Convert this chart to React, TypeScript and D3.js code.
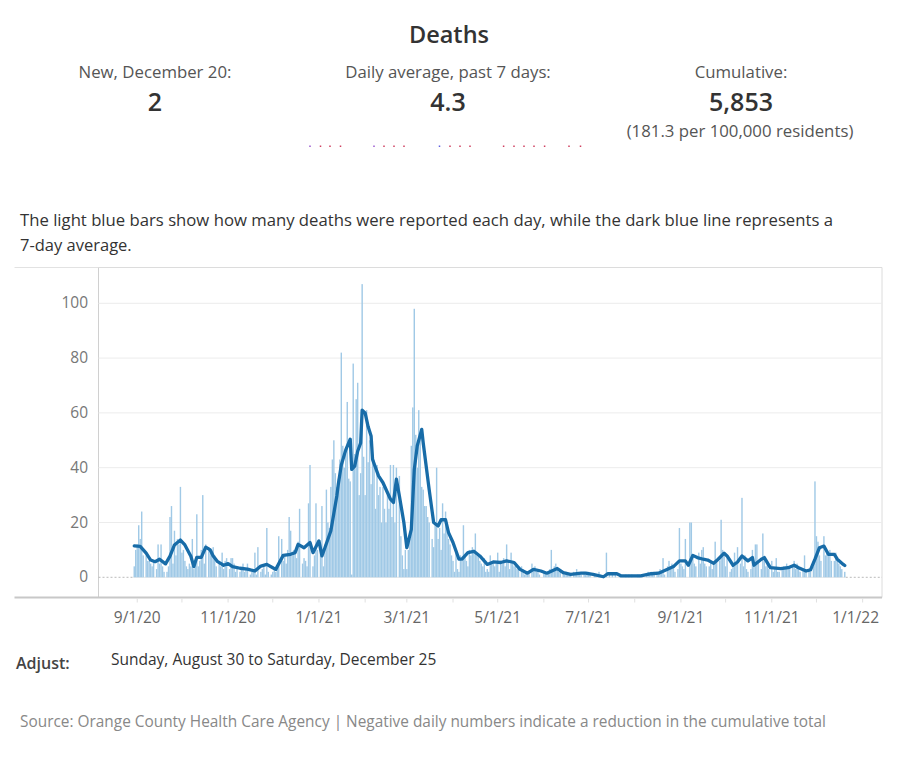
import React from "react";
import * as d3 from "d3";

// ---------- DATA ----------
// Daily reported deaths, starting Sunday Aug 30 2020 (one row per week, Sun..Sat)
const dailyPart1 = [
  4, 10, 12, 19, 14, 24, 8,
  0, 8, 6, 6, 5, 4, 6,
  0, 3, 12, 5, 12, 4, 2,
  0, 2, 4, 22, 26, 5, 17,
  8, 14, 12, 33, 9, 10, 6,
  4, 3, 5, 4, 14, 3, 5,
  23, 4, 6, 10, 30, 5, 12,
  0, 11, 9, 10, 11, 8, 4,
  0, 5, 4, 9, 3, 6, 7,
  0, 3, 7, 7, 5, 2, 4,
];
const dailyPart2 = [
  0, 2, 3, 5, 2, 3, 5,
  0, 1, 2, 3, 9, 1, 11,
  0, 2, 3, 4, 1, 18, 2,
  0, 1, 2, 3, 2, 3, 15,
  0, 14, 6, 8, 5, 10, 22,
  17, 8, 10, 9, 7, 13, 25,
  0, 5, 7, 6, 4, 27, 41,
  0, 4, 8, 27, 10, 0, 12,
  26, 4, 12, 32, 20, 18, 33,
  43, 50, 38, 33, 36, 43, 82,
];
const dailyPart3 = [
  48, 40, 45, 64, 36, 35, 1,
  78, 45, 65, 71, 30, 38, 107,
  44, 30, 61, 42, 50, 34, 43,
  43, 25, 41, 30, 33, 20, 33,
  25, 20, 30, 25, 41, 22, 41,
  20, 40, 0, 37, 15, 8, 3,
  10, 3, 10, 14, 48, 62, 98,
  52, 40, 61, 52, 33, 32, 26,
  26, 22, 20, 0, 14, 11, 20,
  40, 14, 18, 10, 27, 16, 24,
];
const dailyPart4 = [
  20, 14, 12, 8, 6, 2, 10,
  3, 2, 8, 6, 19, 8, 6,
  4, 10, 8, 11, 9, 16, 8,
  8, 6, 5, 4, 7, 2, 3,
  2, 8, 5, 6, 4, 5, 9,
  2, 6, 5, 7, 4, 12, 6,
  3, 9, 6, 4, 5, 3, 4,
  0, 4, 3, 1, 2, 1, 2,
  0, 5, 3, 4, 2, 3, 1,
  0, 0, 2, 2, 1, 2, 3,
];
const dailyPart5 = [
  10, 2, 4, 5, 3, 2, 3,
  0, 2, 1, 2, 1, 1, 1,
  0, 2, 1, 3, 2, 1, 1,
  0, 2, 1, 2, 2, 1, 0,
  0, 1, 1, 0, 2, 1, 0,
  0, 0, 9, 0, 1, 0, 1,
  0, 1, 0, 0, 1, 0, 0,
  0, 1, 0, 1, 0, 1, 0,
  0, 0, 1, 1, 0, 1, 0,
  0, 1, 2, 1, 2, 1, 2,
];
const dailyPart6 = [
  0, 2, 1, 3, 2, 7, 1,
  0, 4, 6, 3, 5, 4, 2,
  0, 3, 18, 5, 4, 3, 14,
  0, 0, 20, 20, 7, 5, 4,
  0, 9, 5, 10, 11, 5, 4,
  0, 4, 6, 3, 5, 13, 6,
  0, 6, 21, 10, 8, 4, 8,
  0, 2, 3, 4, 9, 5, 11,
  0, 5, 29, 4, 8, 3, 2,
  0, 3, 10, 5, 12, 12, 6,
];
const dailyPart7 = [
  0, 3, 16, 7, 4, 5, 3,
  0, 6, 2, 3, 7, 2, 2,
  0, 3, 4, 4, 5, 3, 4,
  0, 4, 6, 3, 5, 4, 2,
  0, 3, 8, 2, 0, 3, 2,
  0, 4, 35, 15, 13, 8, 6,
  0, 15, 8, 9, 8, 10, 6,
  0, 6, 9, 7, 5, 4, 3,
  0, 2,
];

// 7-day average line: day offset from Aug 30 2020, value
const avgDay = [
  0, 4, 8, 11, 14, 17, 21, 24, 27, 31, 34, 38, 40, 42, 45, 48, 51, 53, 56, 60,
  63, 66, 71, 76, 78, 81, 85, 89, 93, 95, 100, 105, 108, 110, 114, 118, 120, 124, 126, 128,
  132, 136, 137, 139, 142, 145, 146, 148, 150, 152, 153, 155, 157, 159, 160, 164, 167, 172, 174, 176,
  178, 181, 183, 186, 188, 190, 193, 194, 198, 201, 204, 206, 209, 211, 214, 218, 220, 224, 228, 232,
  237, 241, 246, 250, 255, 259, 264, 268, 273, 277, 284, 288, 293, 300, 303, 308, 315, 318, 324, 327,
  340, 347, 352, 358, 362, 366, 370, 372, 375, 378, 382, 385, 389, 392, 396, 398, 402, 405, 408, 412,
  415, 416, 421, 423, 427, 434, 439, 443, 446, 451, 454, 457, 460, 463, 466, 470, 472, 476, 477,
];
const avgValue = [
  11.5, 11.3, 8.8, 6.3, 5.7, 6.6, 4.9, 7.7, 11.8, 13.6, 11.8, 7.7, 3.9, 7.3, 7.3, 11, 10, 7.8, 5.7, 4.4,
  5.0, 3.9, 3.3, 3.0, 2.7, 2.3, 4.1, 4.7, 3.5, 2.9, 8, 8.4, 9, 12, 10.8, 12.7, 9, 13.3, 7.8, 10.8,
  17, 29.7, 34, 41, 46.5, 50.4, 39.4, 40.6, 46, 49, 61, 60, 55, 51.6, 43, 37, 34.5, 28.5, 27.3, 35.8,
  29.7, 20, 10.8, 17.5, 39.4, 48, 54, 49, 32, 20, 18.7, 21, 21, 16.3, 12.7, 6.6, 6.6, 9, 9.5, 7.8,
  4.7, 5.6, 5.4, 6, 5.4, 2.9, 1.5, 2.9, 2.3, 1.5, 3.2, 1.7, 1.1, 1.5, 1.5, 1.1, 0.2, 1.3, 1.3, 0.5,
  0.5, 1.3, 1.5, 2.9, 3.9, 6, 6, 4.4, 8, 7.2, 6.6, 6.3, 5.1, 6.6, 8.8, 7.8, 4.4, 5.6, 7.8, 6,
  7.2, 4.4, 6.6, 7.2, 3.5, 3.2, 3.5, 4.4, 3.5, 2.3, 2.7, 6.6, 10.8, 11.4, 8.4, 8.4, 6.6, 4.7, 4.3,
];

const yTicks = [0, 20, 40, 60, 80, 100];
const xTickLabels = ["9/1/20", "11/1/20", "1/1/21", "3/1/21", "5/1/21", "7/1/21", "9/1/21", "11/1/21", "1/1/22"];

const kpiLabels = ["New, December 20:", "Daily average, past 7 days:", "Cumulative:"];
const kpiValues = ["2", "4.3", "5,853"];

// ---------- CHART ----------
const FONT = "'Open Sans', Lato, sans-serif";
const START = new Date(2020, 7, 30);

export default function App() {
  const daily = [...dailyPart1, ...dailyPart2, ...dailyPart3, ...dailyPart4, ...dailyPart5, ...dailyPart6, ...dailyPart7];
  const bars = daily.map((v, i) => ({ date: d3.timeDay.offset(START, i), v }));
  const avg = avgDay.map((d, i) => ({ date: d3.timeDay.offset(START, d), v: avgValue[i] }));

  const left = 98.5, right = 882, top = 267.5, bottom = 597.5;
  const x = d3.scaleTime().domain([new Date(2020, 7, 6), new Date(2022, 0, 14)]).range([left, right]);
  const y = d3.scaleLinear().domain([0, 100]).range([577.3, 303.3]);
  const parse = d3.timeParse("%m/%d/%y");
  const monthTicks = d3.timeMonth.range(new Date(2020, 8, 1), new Date(2022, 0, 2));

  const line = d3.line<{ date: Date; v: number }>().x(d => x(d.date)).y(d => y(d.v));
  const dayW = x(new Date(2020, 8, 2)) - x(new Date(2020, 8, 1));
  const bw = dayW * 0.95;
  const firstX = x(bars[0].date) - 1;
  const lastX = x(bars[bars.length - 1].date) + 1;

  const kpiX = [155, 448, 741];
  const dotXs = [310, 320.5, 330, 340.5, 374, 384, 394, 404, 439.5, 450, 460, 470, 503.6, 514, 524, 534, 544.6, 569, 580.5];
  const dotCols = ["#9b59d0", "#d04060", "#d04060", "#d04060", "#9b59d0", "#d04060", "#d04060", "#d04060", "#6060e0", "#d04060", "#d04060", "#d04060", "#d04060", "#d04060", "#d04060", "#d04060", "#d04060", "#d04060", "#d04060"];

  return (
    <svg width={897} height={768} style={{ position: "absolute", left: 0, top: 0, background: "#fff" }} fontFamily={FONT}>
      <rect x={0} y={0} width={897} height={768} fill="#fff" />
      <text x={449} y={43} textAnchor="middle" fontSize={23.5} fontWeight={600} fill="#333">Deaths</text>
      {kpiLabels.map((t, i) => (
        <text key={t} x={kpiX[i]} y={78} textAnchor="middle" fontSize={16.8} fill="#555">{t}</text>
      ))}
      {kpiValues.map((t, i) => (
        <text key={t} x={kpiX[i]} y={111} textAnchor="middle" fontSize={25} fontWeight={600} fill="#333">{t}</text>
      ))}
      <text x={740} y={137} textAnchor="middle" fontSize={16.8} fill="#555">(181.3 per 100,000 residents)</text>
      {dotXs.map((dx, i) => (
        <rect key={i} x={dx - 0.75} y={145.5} width={1.5} height={1.5} fill={dotCols[i]} />
      ))}

      <text x={20} y={226} fontSize={16.5} fill="#333" textLength={813} lengthAdjust="spacingAndGlyphs">The light blue bars show how many deaths were reported each day, while the dark blue line represents a</text>
      <text x={20} y={251} fontSize={16.5} fill="#333">7-day average.</text>

      {/* frame */}
      <line x1={14.5} x2={left} y1={top} y2={top} stroke="#e2e2e2" />
      <line x1={left} x2={right} y1={top} y2={top} stroke="#dcdcdc" />
      <line x1={right} x2={right} y1={top} y2={bottom} stroke="#dcdcdc" />
      <line x1={left} x2={left} y1={top} y2={bottom} stroke="#d0d0d0" />

      {/* gridlines */}
      {yTicks.filter(t => t > 0).map(t => (
        <line key={t} x1={left} x2={right} y1={y(t)} y2={y(t)} stroke="#ececec" />
      ))}
      <line x1={left} x2={firstX} y1={y(0)} y2={y(0)} stroke="#bbb" strokeDasharray="2,2" />
      <line x1={lastX} x2={right} y1={y(0)} y2={y(0)} stroke="#bbb" strokeDasharray="2,2" />
      <line x1={firstX} x2={lastX} y1={y(0)} y2={y(0)} stroke="#e6e6e6" />

      {/* y labels */}
      {yTicks.map(t => (
        <text key={t} x={88} y={y(t) + 5} textAnchor="end" fontSize={15.5} fill="#777">{t}</text>
      ))}

      {/* bars */}
      {bars.map((b, i) => (
        <rect key={i} x={x(b.date) - bw / 2} y={y(Math.max(b.v, 0))} width={bw} height={Math.abs(y(0) - y(b.v))} fill="#a0c9e6" />
      ))}

      {/* 7-day avg */}
      <path d={line(avg) || ""} fill="none" stroke="#186ca8" strokeWidth={3.3} strokeLinejoin="round" strokeLinecap="round" />

      {/* bottom axis */}
      <line x1={14.5} x2={right} y1={bottom} y2={bottom} stroke="#c8c8c8" strokeWidth={2} />
      {monthTicks.map((m, i) => (
        <line key={i} x1={x(m)} x2={x(m)} y1={bottom + 1} y2={bottom + 5} stroke="#e0e0e0" />
      ))}
      {xTickLabels.map((t, i) => {
        const d = parse(t) as Date;
        const last = i === xTickLabels.length - 1;
        return (
          <text key={t} x={last ? 879 : x(d)} y={623} textAnchor={last ? "end" : "middle"} fontSize={15.5} fill="#666">{t}</text>
        );
      })}

      <text x={16} y={669} fontSize={16} fontWeight={600} fill="#444">Adjust:</text>
      <text x={111} y={665} fontSize={15.5} fill="#333">Sunday, August 30 to Saturday, December 25</text>

      <text x={20} y={727} fontSize={15.5} fill="#888" textLength={806} lengthAdjust="spacingAndGlyphs">Source: Orange County Health Care Agency | Negative daily numbers indicate a reduction in the cumulative total</text>
    </svg>
  );
}
